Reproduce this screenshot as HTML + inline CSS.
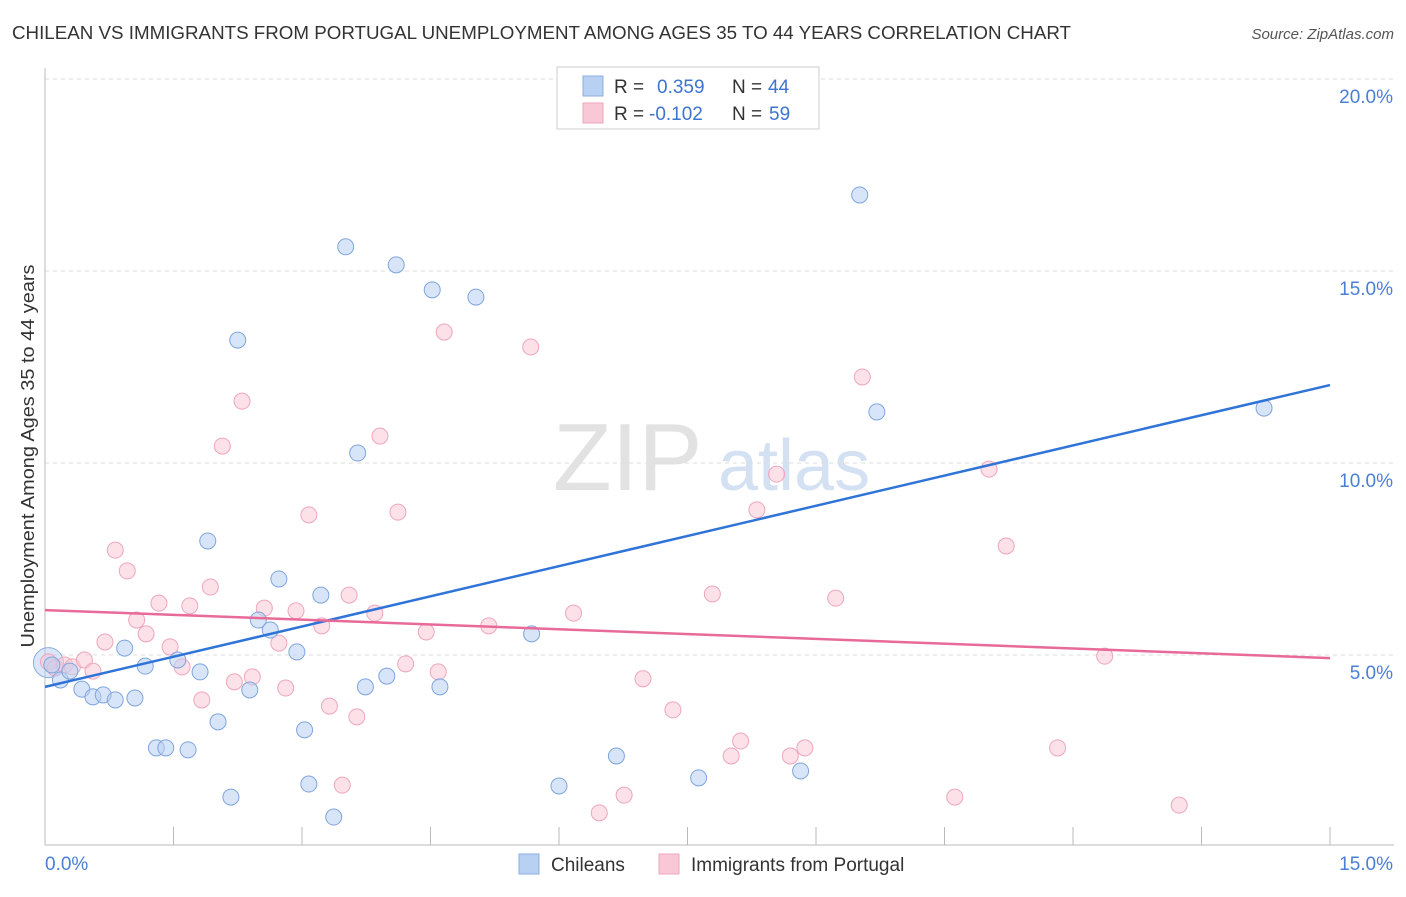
<!DOCTYPE html>
<html><head><meta charset="utf-8"><style>
body{margin:0;background:#fff;font-family:"Liberation Sans",sans-serif;}
svg text{font-family:"Liberation Sans",sans-serif;}
</style></head><body>
<svg width="1406" height="892" xmlns="http://www.w3.org/2000/svg">
<text x="12" y="39" font-size="18.5" fill="#333" textLength="1059" lengthAdjust="spacingAndGlyphs">CHILEAN VS IMMIGRANTS FROM PORTUGAL UNEMPLOYMENT AMONG AGES 35 TO 44 YEARS CORRELATION CHART</text>
<text x="1394" y="39" font-size="15" fill="#555" text-anchor="end" font-style="italic">Source: ZipAtlas.com</text>
<g>
<text x="553" y="490" font-size="96" fill="#e2e2e2" font-family="Liberation Serif">ZIP</text>
<text x="718" y="490" font-size="72" fill="#d4e1f3">atlas</text>
</g>
<g id="grid"></g>
<g id="axes"></g>
<g id="marks"></g>
<text transform="translate(34,456) rotate(-90)" font-size="18.5" fill="#333" text-anchor="middle" textLength="383" lengthAdjust="spacingAndGlyphs">Unemployment Among Ages 35 to 44 years</text>
<g>
<rect x="557" y="67" width="262" height="62" fill="#fff" stroke="#ccc"/>
<rect x="583" y="76" width="20" height="20" fill="#b8d0f2" stroke="#8aaee0"/>
<rect x="583" y="103" width="20" height="20" fill="#f9c8d6" stroke="#eea6bc"/>
<text x="614" y="93" font-size="19" fill="#333">R =</text>
<text x="657" y="93" font-size="19" fill="#3d74d0">0.359</text>
<text x="732" y="93" font-size="19" fill="#333">N =</text>
<text x="768" y="93" font-size="19" fill="#3d74d0">44</text>
<text x="614" y="120" font-size="19" fill="#333">R =</text>
<text x="649" y="120" font-size="19" fill="#3d74d0">-0.102</text>
<text x="732" y="120" font-size="19" fill="#333">N =</text>
<text x="769" y="120" font-size="19" fill="#3d74d0">59</text>
</g>
<g>
<rect x="519" y="854" width="20" height="20" fill="#b8d0f2" stroke="#8aaee0"/>
<text x="551" y="871" font-size="19" fill="#333">Chileans</text>
<rect x="659" y="854" width="20" height="20" fill="#f9c8d6" stroke="#eea6bc"/>
<text x="691" y="871" font-size="19" fill="#333">Immigrants from Portugal</text>
</g>
</svg>
<script>
const yTicks=[5,10,15,20];
const yTickLabels=["5.0%","10.0%","15.0%","20.0%"];
const xTickLabels=["0.0%","15.0%"];
const blueX=[0.08,0.18,0.29,0.43,0.56,0.68,0.82,0.93,1.05,1.17,1.30,1.41,1.55,1.67,1.81,1.90,2.02,2.17,2.25,2.39,2.49,2.63,2.73,2.94,3.03,3.08,3.22,3.37,3.51,3.65,3.74,3.99,4.10,4.52,4.61,5.03,5.68,6.00,6.67,7.63,8.82,9.51,9.71,14.23];
const blueY=[4.74,4.35,4.58,4.11,3.91,3.96,3.83,5.18,3.88,4.71,2.58,2.58,4.87,2.53,4.56,7.97,3.26,1.30,13.20,4.09,5.91,5.65,6.98,5.08,3.05,1.64,6.56,0.78,15.63,10.26,4.17,4.45,15.16,14.51,4.17,14.32,5.55,1.59,2.37,1.80,1.98,16.98,11.33,11.43];
const pinkX=[0.04,0.12,0.23,0.32,0.46,0.56,0.70,0.82,0.96,1.07,1.18,1.33,1.46,1.60,1.69,1.83,1.93,2.07,2.21,2.30,2.42,2.56,2.73,2.81,2.93,3.08,3.23,3.32,3.47,3.55,3.64,3.85,3.91,4.12,4.21,4.45,4.59,4.66,5.18,5.67,6.17,6.47,6.76,6.98,7.33,7.79,8.01,8.12,8.31,8.54,8.70,8.87,9.23,9.54,10.62,11.02,11.22,11.82,12.37,13.24];
const pinkY=[4.82,4.66,4.74,4.69,4.87,4.58,5.34,7.73,7.19,5.91,5.55,6.35,5.21,4.69,6.28,3.83,6.77,10.44,4.30,11.61,4.43,6.22,5.31,4.14,6.15,8.65,5.76,3.67,1.61,6.56,3.39,6.09,10.70,8.72,4.77,5.60,4.56,13.41,5.76,13.02,6.09,0.89,1.35,4.38,3.57,6.59,2.37,2.76,8.78,9.71,2.37,2.58,6.48,12.24,1.30,9.84,7.84,2.58,4.97,1.09];
const blueTrend=[4.17,12.03];
const pinkTrend=[6.17,4.92];
const NS="http://www.w3.org/2000/svg";
const xs=v=>45+v*(1285/15);
const ys=v=>847-v*38.4;
function mk(tag,attrs,parent){const e=document.createElementNS(NS,tag);for(const k in attrs)e.setAttribute(k,attrs[k]);document.getElementById(parent).appendChild(e);return e;}
yTicks.forEach((t,i)=>{
 const g=mk('line',{x1:45,x2:1394,y1:ys(t),y2:ys(t),stroke:'#ddd','stroke-dasharray':'4,4'},'grid');
 
 
 const l=mk('text',{x:1393,y:ys(t)+24,'font-size':19,fill:'#4a7fd4','text-anchor':'end'},'axes');
 l.textContent=yTickLabels[i];
 
 
});
let a=mk('line',{x1:45,x2:45,y1:68,y2:845,stroke:'#bbb'},'axes');


a=mk('line',{x1:45,x2:1394,y1:845,y2:845,stroke:'#bbb'},'axes');


for(let i=0;i<=10;i++){const t=mk('line',{x1:xs(i*1.5),x2:xs(i*1.5),y1:827,y2:845,stroke:'#bbb'},'axes');
 
 }
[[0,xTickLabels[0],'start',45],[15,xTickLabels[1],'end',1393]].forEach(d=>{
 const l=mk('text',{x:d[3],y:870,'font-size':19,fill:'#4a7fd4','text-anchor':d[2]},'axes');
 l.textContent=d[1];
 
 
});
function pts(X,Y,fill,stroke,name){X.forEach((x,i)=>{
 const c=mk('circle',{cx:xs(x),cy:ys(Y[i]),r:8,fill:fill,'fill-opacity':0.55,stroke:stroke,'stroke-width':1},'marks');
 
 });}
let big=mk('circle',{cx:xs(0.04),cy:ys(4.8),r:15,fill:'#b8d0f2','fill-opacity':0.5,stroke:'#8aaee0'},'marks');


pts(pinkX,pinkY,'#f9c8d6','#eea6bc','portugal-point');
pts(blueX,blueY,'#b8d0f2','#7fa5dd','chilean-point');
let tl=mk('line',{x1:xs(0),y1:ys(blueTrend[0]),x2:xs(15),y2:ys(blueTrend[1]),stroke:'#2f74d6','stroke-width':2.5},'marks');


tl=mk('line',{x1:xs(0),y1:ys(pinkTrend[0]),x2:xs(15),y2:ys(pinkTrend[1]),stroke:'#e86a98','stroke-width':2.5},'marks');


</script>
</body></html>
